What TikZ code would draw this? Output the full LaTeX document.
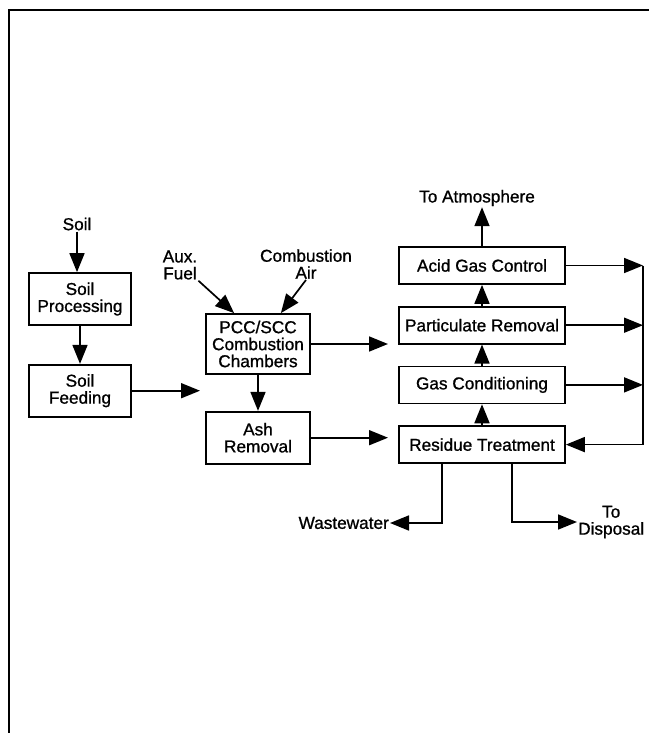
\documentclass[tikz,border=0pt]{standalone}
\usepackage{fontspec}
\setmainfont{Liberation Sans}[FakeBold=1]
\usetikzlibrary{arrows.meta,positioning,calc}

\begin{document}
\begin{tikzpicture}[x=1pt,y=-1pt,
  every node/.style={font=\fontsize{17.2}{17}\selectfont,align=center,inner sep=1pt},
  unitbox/.style={draw,line width=1.7pt,minimum height=52pt,inner sep=2pt},
  widebox/.style={unitbox,minimum width=166pt,minimum height=37pt},
  flow/.style={-{Triangle[length=19pt,width=15pt]},line width=1.7pt}]
\useasboundingbox (0,0) rectangle (649,733);
\draw[line width=1.7pt] (9,733) -- (9,10) -- (649,10);
% soil train
\node (soil) at (77,224) {Soil};
\node[unitbox,minimum width=102pt] (proc) at (80,299) {Soil\\Processing};
\node[unitbox,minimum width=102pt,below=38pt of proc] (feed) {Soil\\Feeding};
% combustion
\node (fuel) at (180,265) {Aux.\\Fuel};
\node (air) at (306,264) {Combustion\\Air};
\node[unitbox,minimum width=104pt,minimum height=60pt] (pcc) at (258,344) {PCC/SCC\\Combustion\\Chambers};
\node[unitbox,minimum width=104pt,below=36pt of pcc] (ash) {Ash\\Removal};
% gas train
\node[widebox] (acid) at (482,265.5) {Acid Gas Control};
\node[widebox,below=21pt of acid] (part) {Particulate Removal};
\node[widebox,below=21pt of part] (gas) {Gas Conditioning};
\node[widebox,below=21pt of gas] (res) {Residue Treatment};
\node (atmo) at (477,198) {To Atmosphere};
\node[anchor=east] (waste) at (390,523) {Wastewater};
\node[anchor=west] (disp) at (577,522) {To\\Disposal};
\coordinate (feedend) at (200,0);
\coordinate (gasend) at (388,0);
\coordinate (bus) at (643,0);
% connectors
\draw[flow] (soil) -- (soil |- proc.north);
\draw[flow] (proc) -- (feed);
\draw[flow] (feed.east) -- (feed.east -| feedend);
\draw[flow] (fuel.south east) -- ([xshift=29pt]pcc.north west);
\draw[flow] (air.south) -- ([xshift=-30pt]pcc.north east);
\draw[flow] (pcc) -- (ash);
\draw[flow] (pcc.east) -- (pcc.east -| gasend);
\draw[flow] (ash.east) -- (ash.east -| gasend);
\draw[flow] (res) -- (gas);
\draw[flow] (gas) -- (part);
\draw[flow] (part) -- (acid);
\draw[flow] (acid.north) -- (acid.north |- atmo.south);
\draw[flow] (acid.east) -- (acid.east -| bus);
\draw[flow] (part.east) -- (part.east -| bus);
\draw[flow] (gas.east) -- (gas.east -| bus);
\draw[flow] (acid.east -| bus) |- (res.east);
\draw[flow] ([xshift=-40pt]res.south) |- (waste.east);
\draw[flow] ([xshift=30pt]res.south) |- (disp.west);
\end{tikzpicture}
\end{document}
